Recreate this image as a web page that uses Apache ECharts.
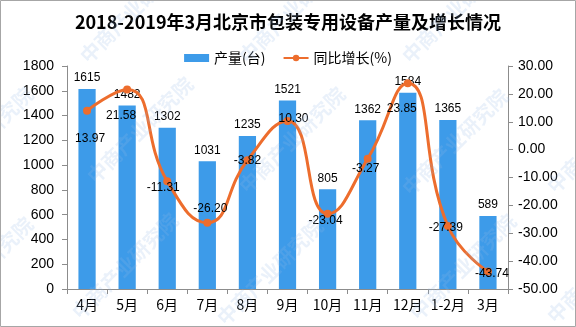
<!DOCTYPE html>
<html><head><meta charset="utf-8">
<script src="https://cdn.jsdelivr.net/npm/echarts@6/dist/echarts.min.js"></script>
<style>html,body{margin:0;padding:0;background:#fff}#c{width:576px;height:327px}</style>
</head><body><div id="c"></div>
<script>
const categories = ['4月','5月','6月','7月','8月','9月','10月','11月','12月','1-2月','3月'];
const output = [1615,1482,1302,1031,1235,1521,805,1362,1584,1365,589];
const growth = [13.97,21.58,-11.31,-26.20,-3.82,10.30,-23.04,-3.27,23.85,-27.39,-43.74];
const leftAxisRange = [0, 1800, 200];
const rightAxisRange = [-50, 30, 10];
const seriesNames = ['产量(台)', '同比增长(%)'];
const titleText = '2018-2019年3月北京市包装专用设备产量及增长情况';
const watermarkText = '中商产业研究院';

// label offsets (style only)
const labelOffsets = [[3,28],[-6,26],[-4,7],[3,-14],[0,0],[6,-2],[-2,7],[-2,10],[-6,26],[-2,2],[4,2]];

const chart = echarts.init(document.getElementById('c'), null, {renderer:'canvas'});
const numFont = 'Liberation Sans, Arial, sans-serif';
const cjkFont = 'Noto Sans CJK SC, sans-serif';

const wmCenters = [[133,10],[292,10],[455,10],[140,130],[292,140],[455,142],[125,266],[270,272],[463,267],[-20,140],[-20,270],[600,140],[600,270]];
const graphics = wmCenters.map(c => ({
  type:'text', x:c[0], y:c[1], rotation: Math.PI/4, z:100, silent:true,
  style:{text:watermarkText, font:'bold 20px Noto Sans CJK SC', fill:'rgba(150,185,230,0.2)', align:'center', verticalAlign:'middle'}
}));
graphics.push({type:'rect', shape:{x:0.5,y:0.5,width:575,height:326}, style:{fill:'none', stroke:'#a6a6a6', lineWidth:1}, silent:true, z:101});

chart.setOption({
  animation:false,
  backgroundColor:'#fff',
  title:{text:titleText, left:'center', top:13, padding:0,
    textStyle:{fontSize:18, fontWeight:'bold', color:'#000', fontFamily:cjkFont}},
  legend:{left:'center', top:46, itemGap:17, itemWidth:25, itemHeight:8,
    textStyle:{fontSize:14, color:'#000', fontFamily:cjkFont},
    data:[{name:seriesNames[0], icon:'rect'}, {name:seriesNames[1]}]},
  grid:{left:67, right:68, top:66, bottom:38, containLabel:false},
  xAxis:{type:'category', data:categories,
    axisLine:{lineStyle:{color:'#8c8c8c'}},
    axisTick:{show:true, length:5, lineStyle:{color:'#8c8c8c'}},
    axisLabel:{fontSize:14, color:'#000', fontFamily:cjkFont, margin:9, interval:0}},
  yAxis:[
    {type:'value', min:leftAxisRange[0], max:leftAxisRange[1], interval:leftAxisRange[2],
     splitLine:{show:false},
     axisLine:{show:true, lineStyle:{color:'#8c8c8c'}},
     axisTick:{show:true, length:5, lineStyle:{color:'#8c8c8c'}},
     axisLabel:{fontSize:14, color:'#000', fontFamily:numFont, margin:13, formatter:v=>String(v)}},
    {type:'value', min:rightAxisRange[0], max:rightAxisRange[1], interval:rightAxisRange[2],
     splitLine:{show:false},
     axisLine:{show:true, lineStyle:{color:'#8c8c8c'}},
     axisTick:{show:true, length:5, lineStyle:{color:'#8c8c8c'}},
     axisLabel:{fontSize:14, color:'#000', fontFamily:numFont, margin:10, formatter:v=>v.toFixed(2)}}
  ],
  series:[
    {name:seriesNames[0], type:'bar', data:output, barWidth:'43%',
     itemStyle:{color:'#3d9be9'},
     label:{show:true, position:'top', distance:5, fontSize:12, color:'#000', fontFamily:numFont}},
    {name:seriesNames[1], type:'line', yAxisIndex:1, smooth:0.5,
     data:growth.map((v,i)=>({value:v, label:{offset:labelOffsets[i]}})),
     symbol:'circle', symbolSize:8,
     lineStyle:{color:'#ed6d2d', width:3},
     itemStyle:{color:'#ed6d2d'},
     label:{show:true, position:'inside', fontSize:12, color:'#000', fontFamily:numFont,
       formatter:p=>p.value.toFixed(2)}}
  ],
  graphic:graphics
});
</script></body></html>
